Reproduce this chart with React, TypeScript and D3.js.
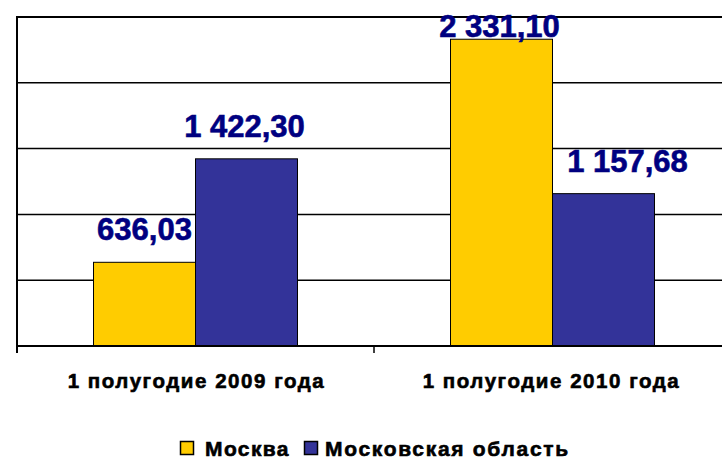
import React from "react";
import * as d3 from "d3";

const categories = ["1 полугодие 2009 года", "1 полугодие 2010 года"];
const seriesNames = ["Москва", "Московская область"];
const moscow = [636.03, 2331.1];
const oblast = [1422.3, 1157.68];
const labelsMoscow = ["636,03", "2 331,10"];
const labelsOblast = ["1 422,30", "1 157,68"];
const yTicks = [0, 500, 1000, 1500, 2000, 2500];
const colors = ["#FFCC00", "#333399"];

const W = 722;
const H = 459;
const left = 17;
const top = 17;
const bottom = 346;

export default function App() {
  const x0 = d3.scaleBand<string>().domain(categories).range([left, left + 357 * 2]);
  const bw = x0.bandwidth();
  const gap = bw * 0.2143;
  const x1 = d3.scaleBand<string>().domain(seriesNames).range([gap, bw - gap]);
  const y = d3.scaleLinear().domain([0, 2500]).range([bottom, top]);
  const series = [moscow, oblast];
  const labels = [labelsMoscow, labelsOblast];
  // manual label shifts as in the original chart
  const labelDx = [
    [0, -2],
    [-2, 24],
  ];
  const font = "Arial, 'Liberation Sans', sans-serif";

  return (
    <svg width={W} height={H} style={{ display: "block", position: "absolute", left: 0, top: 0 }} fontFamily={font}>
      <rect x={0} y={0} width={W} height={H} fill="#fff" />
      {yTicks.slice(1).map((t) => (
        <line key={t} x1={left} x2={W} y1={y(t)} y2={y(t)} stroke="#000" strokeWidth={t === 2500 ? 2 : 1.5} />
      ))}
      {categories.map((c, ci) =>
        series.map((s, si) => {
          const xb = (x0(c) as number) + (x1(seriesNames[si]) as number);
          return (
            <rect
              key={c + si}
              x={xb}
              y={y(s[ci])}
              width={x1.bandwidth()}
              height={bottom - y(s[ci])}
              fill={colors[si]}
              stroke="#000"
              strokeWidth={1}
            />
          );
        })
      )}
      <line x1={left} x2={W} y1={bottom} y2={bottom} stroke="#000" strokeWidth={2} />
      <line x1={left} x2={left} y1={top - 1} y2={bottom + 7} stroke="#000" strokeWidth={2} />
      {categories.slice(1).map((c) => (
        <line key={c} x1={x0(c) as number} x2={x0(c) as number} y1={bottom} y2={bottom + 7} stroke="#000" strokeWidth={1.5} />
      ))}
      {categories.map((c, ci) =>
        series.map((s, si) => {
          const xc = (x0(c) as number) + (x1(seriesNames[si]) as number) + x1.bandwidth() / 2;
          const yb = Math.max(y(s[ci]) - 22, 37);
          return (
            <text
              key={"l" + c + si}
              x={xc + labelDx[ci][si]}
              y={yb}
              textAnchor="middle"
              fontSize={31}
              fontWeight="bold"
              fill="#000080"
              stroke="#000080"
              strokeWidth={0.6}
            >
              {labels[si][ci]}
            </text>
          );
        })
      )}
      {categories.map((c, ci) => (
        <text
          key={"c" + c}
          x={(x0(c) as number) + bw / 2 + (ci === 0 ? 1 : -1)}
          y={388}
          textAnchor="middle"
          fontSize={20.5}
          fontWeight="bold"
          letterSpacing={1.55}
          fill="#000"
          stroke="#000"
          strokeWidth={0.6}
        >
          {c}
        </text>
      ))}
      <g>
        <rect x={180.5} y={441.5} width={13} height={13} fill={colors[0]} stroke="#000" strokeWidth={1.5} />
        <text x={205} y={456} fontSize={21} fontWeight="bold" letterSpacing={1.4} fill="#000" stroke="#000" strokeWidth={0.6}>
          {seriesNames[0]}
        </text>
        <rect x={304.5} y={441.5} width={13} height={13} fill={colors[1]} stroke="#000" strokeWidth={1.5} />
        <text x={325} y={456} fontSize={21} fontWeight="bold" letterSpacing={1.7} fill="#000" stroke="#000" strokeWidth={0.6}>
          {seriesNames[1]}
        </text>
      </g>
    </svg>
  );
}
